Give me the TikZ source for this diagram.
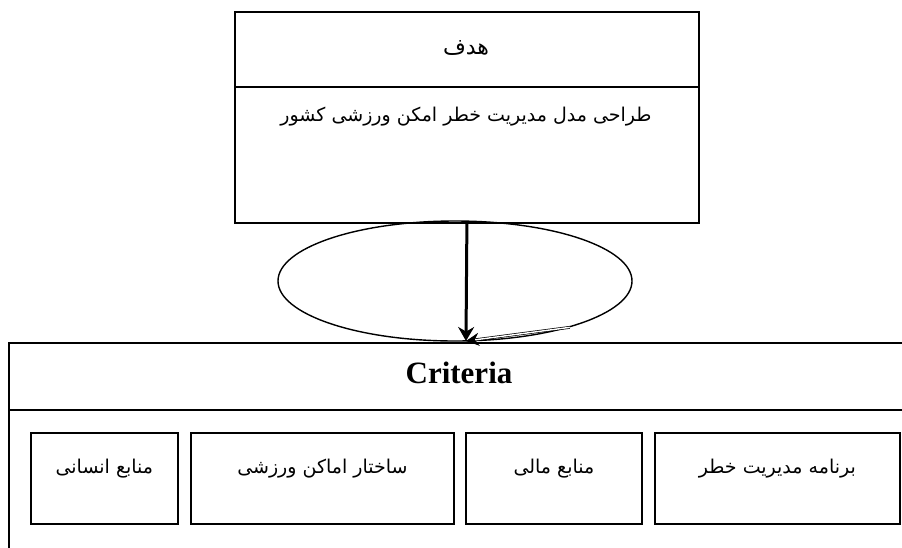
\documentclass[tikz,border=0pt]{standalone}
\usepackage{fontspec}
\setmainfont{Liberation Serif}
\newfontfamily\arabicfont[Script=Arabic]{DejaVu Sans}
\TeXXeTstate=1
\usetikzlibrary{shapes.geometric,arrows.meta}
\begin{document}
\begin{tikzpicture}[x=1pt,y=-1pt,
  boxst/.style={draw, line width=1.8pt, rectangle, inner sep=0pt, anchor=north west},
  artext/.style={font=\arabicfont\fontsize{19}{22}\selectfont, anchor=base, inner sep=0pt},
  ellst/.style={draw, line width=1.4pt, ellipse, inner sep=0pt, minimum width=354pt, minimum height=120pt},
  thickarrow/.style={line width=3pt, -{Stealth[length=14pt,width=16pt]}},
  thinarrow/.style={double, line width=0.7pt, double distance=1.4pt, -{Stealth[length=13pt,width=13pt]}}
]
\path[use as bounding box, clip] (0,0) rectangle (902,547);
% top box
\node[boxst, minimum width=464pt, minimum height=75pt] (tophead) at (234,11) {};
\node[boxst, minimum width=464pt, minimum height=136pt] (topbody) at (234,86) {};
\node[artext, font=\arabicfont\fontsize{22}{24}\selectfont] (goal) at (466,54) {\beginR هدف\endR};
\node[artext] (goaltext) at (466,121) {\beginR طراحی مدل مدیریت خطر امکن ورزشی کشور\endR};
% ellipse
\node[ellst] (ell) at (455,281) {};
% criteria box
\node[boxst, minimum width=900pt, minimum height=67pt] (crithead) at (8,342) {};
\node[boxst, minimum width=900pt, minimum height=150pt] (critbody) at (8,409) {};
\node[anchor=base, inner sep=0pt, font=\bfseries\fontsize{31}{34}\selectfont] (crit) at (459,383) {Criteria};
% criteria boxes
\node[boxst, minimum width=147pt, minimum height=91pt] (b1) at (30,432) {};
\node[boxst, minimum width=263pt, minimum height=91pt] (b2) at (190,432) {};
\node[boxst, minimum width=176pt, minimum height=91pt] (b3) at (465,432) {};
\node[boxst, minimum width=245pt, minimum height=91pt] (b4) at (654,432) {};
\node[artext] (l1) at (b1.north |- 0,473) {\beginR منابع انسانی\endR};
\node[artext] (l2) at (b2.north |- 0,473) {\beginR ساختار اماکن ورزشی\endR};
\node[artext] (l3) at (b3.north |- 0,473) {\beginR منابع مالی\endR};
\node[artext] (l4) at (b4.north |- 0,473) {\beginR برنامه مدیریت خطر\endR};
% arrows
\coordinate (tip) at (466,341);
\draw[thickarrow] (topbody.south) -- (tip);
\draw[thinarrow] (ell.-22) -- (tip);
\end{tikzpicture}
\end{document}
